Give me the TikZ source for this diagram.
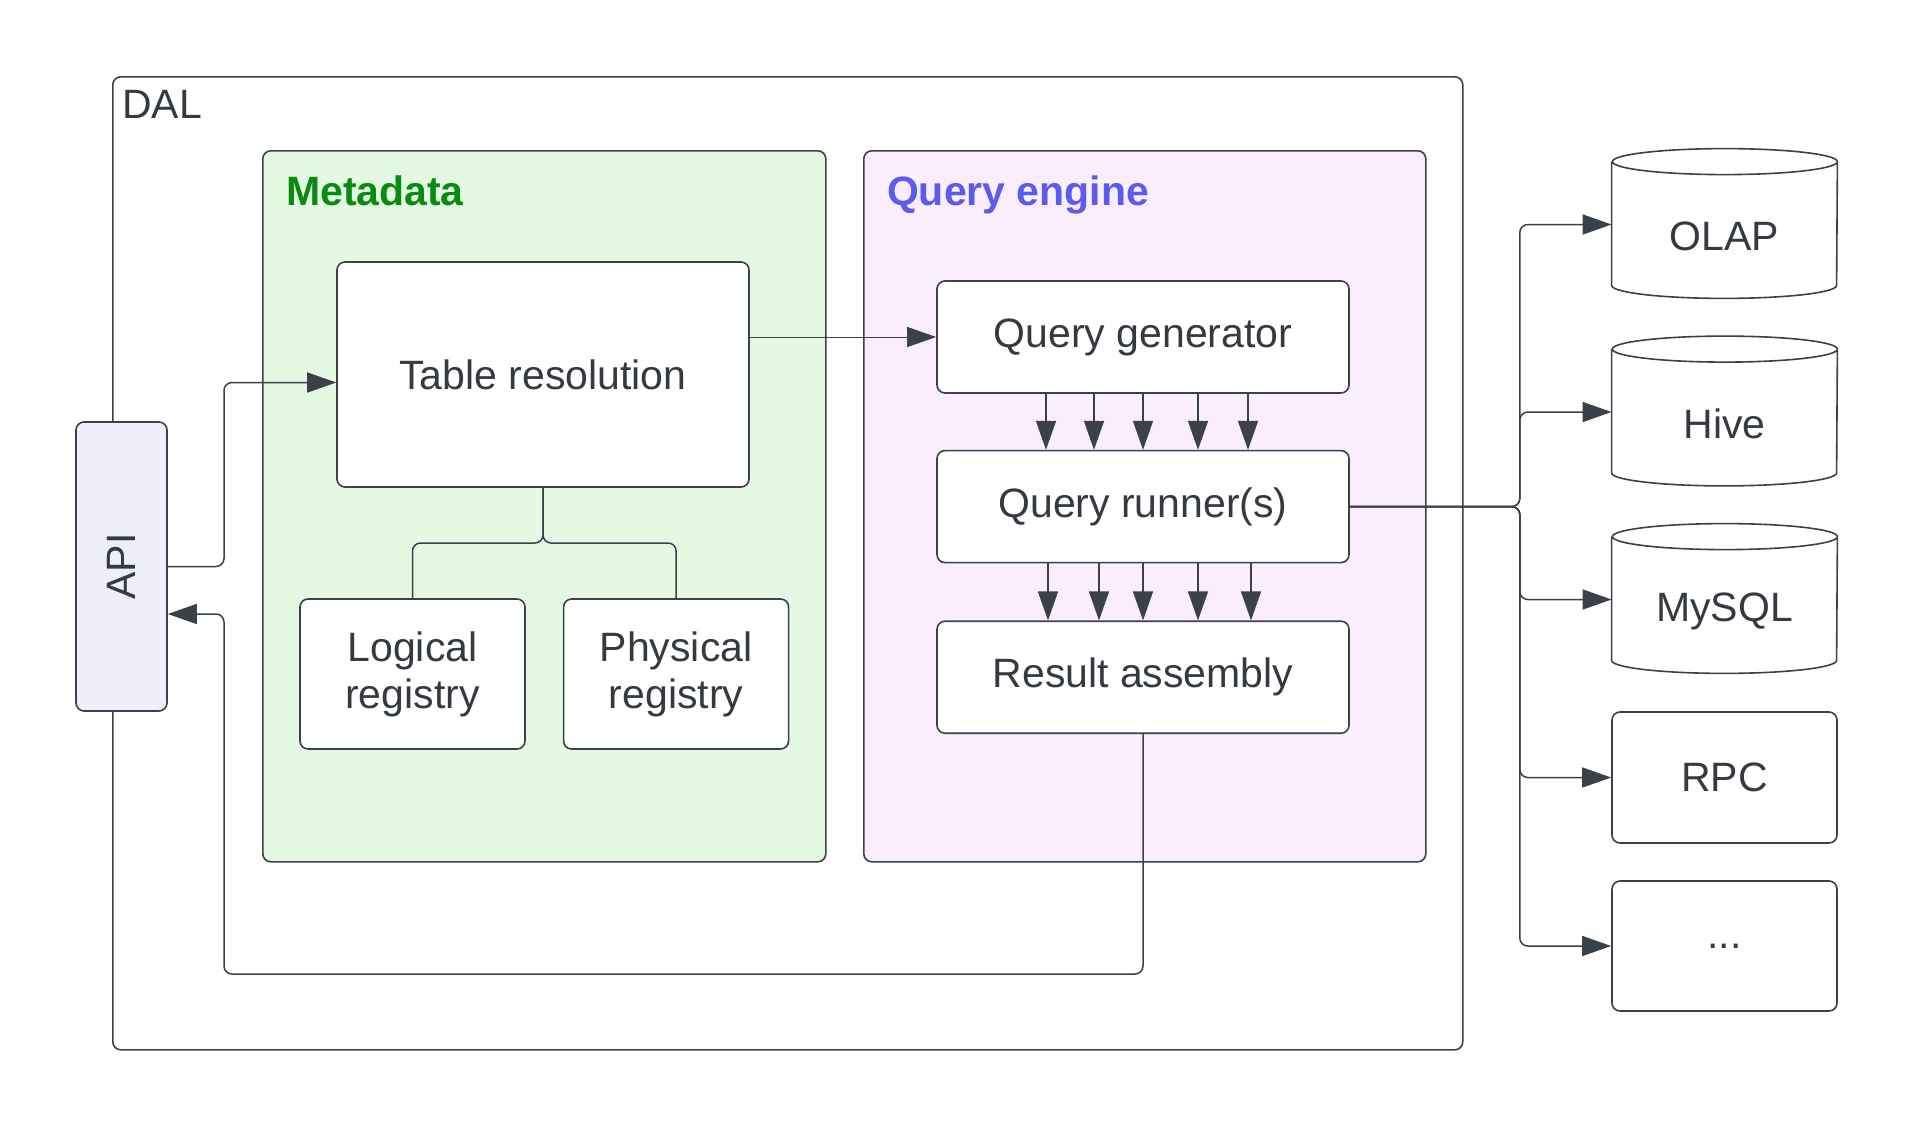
\documentclass[tikz,border=0pt]{standalone}
\usepackage{fontspec}
\setmainfont{Liberation Sans}
\usepackage{xcolor}
\usepackage{graphicx}
\usepackage{tikz}
\usetikzlibrary{arrows.meta, positioning, calc}

\definecolor{linec}{HTML}{3A4149}
\definecolor{textc}{HTML}{343A40}
\definecolor{metafill}{HTML}{E3F9E1}
\definecolor{metatext}{HTML}{0A8A12}
\definecolor{qefill}{HTML}{FBEEFC}
\definecolor{qetext}{HTML}{5B5BEE}
\definecolor{apifill}{HTML}{EFEFFC}

\newcommand{\drum}[1]{%
  \draw[draw=linec, line width=0.8pt] ($(#1.north west)+(0,6.5pt)$) -- ($(#1.south west)+(0,6.5pt)$)
    arc[start angle=180, end angle=360, x radius=56.25pt, y radius=6.5pt]
    -- ($(#1.north east)+(0,6.5pt)$)
    arc[start angle=0, end angle=360, x radius=56.25pt, y radius=6.5pt];}

\begin{document}
\begin{tikzpicture}[
    x=0.5pt, y=-0.5pt,
    font=\fontsize{20.5}{23.5}\selectfont,
    text=textc,
    node distance=28pt,
    group/.style={draw=linec, line width=0.8pt, rounded corners=4pt, anchor=north west, inner sep=0pt},
    title/.style={anchor=base west, font=\fontsize{20.5}{23.5}\selectfont\bfseries},
    box/.style={draw=linec, line width=0.8pt, rounded corners=4pt, fill=white, align=center, inner sep=0pt},
    store/.style={align=center, inner sep=0pt, minimum width=112.5pt, minimum height=61.5pt},
    link/.style={draw=linec, line width=0.75pt, rounded corners=4pt},
    flow/.style={link, -{Triangle[length=14.5pt, width=10pt]}}
]
\useasboundingbox (0,0) rectangle (1913,1125);

\node [group, minimum width=675pt, minimum height=486.5pt] (dal) at (112,76) {};
\node [anchor=base west] (dallabel) at (115,118) {DAL};

\node [group, fill=metafill, minimum width=281.5pt, minimum height=355.5pt] (meta) at (262,150) {};
\node [title, text=metatext] (metalabel) at (279,205) {Metadata};
\node [group, fill=qefill, minimum width=281pt, minimum height=355.5pt] (qeng) at (863,150) {};
\node [title, text=qetext] (qenglabel) at (880,205) {Query engine};

\node [box, fill=apifill, minimum width=45.5pt, minimum height=144.5pt] (api) at (121.5,566.5) {\rotatebox{90}{API}};

\node [box, minimum width=206pt, minimum height=112.5pt] (tres) at (543,374.5) {Table resolution};
\node [box, minimum width=112.5pt, minimum height=75pt] (logreg) at (412.5,674) {Logical\\registry};
\node [box, minimum width=112.5pt, minimum height=75pt, right=18.5pt of logreg] (phyreg) {Physical\\registry};

\node [box, minimum width=206pt, minimum height=56pt] (qgen) at (1143,337) {Query generator};
\node [box, minimum width=206pt, minimum height=56pt, below=of qgen] (qrun) {Query runner(s)};
\node [box, minimum width=206pt, minimum height=56pt, below=28.5pt of qrun] (rasm) {Result assembly};

\node [store] (olap) at (1724.5,236.5) {OLAP};
\node [store] (hive) at (1724.5,424) {Hive};
\node [store] (mysql) at (1724.5,611.5) {MySQL};
\node [box, minimum width=112.5pt, minimum height=65.5pt] (rpc) at (1724.5,777.5) {RPC};
\node [box, minimum width=112.5pt, minimum height=65pt] (dots) at (1724.5,946) {...};
\drum{olap}
\drum{hive}
\drum{mysql}

\coordinate (lane) at (224,974);
\coordinate (fork) at ($(tres.south)!0.5!(tres.south |- logreg.north)$);
\coordinate (hub) at ($(qrun.east)+(85pt,0)$);

\draw [flow] (api.east) -- (api.east -| lane) |- ([yshift=-4pt]tres.west);
\draw [flow, line width=0.5pt] (tres.east |- qgen.west) -- (qgen.west);
\draw [link] (tres.south) -- (fork) -| (logreg.north);
\draw [link] (tres.south) -- (fork) -| (phyreg.north);

\foreach \dx in {-48.5, -24.5, 0, 27.5, 52.5}
    \draw [flow] ($(qgen.south)+(\dx pt,0)$) -- ($(qrun.north)+(\dx pt,0)$);
\foreach \dx in {-47.5, -22, 0, 27.5, 54}
    \draw [flow] ($(qrun.south)+(\dx pt,0)$) -- ($(rasm.north)+(\dx pt,0)$);

\draw [flow] (rasm.south) |- (lane) |- ([yshift=-23.75pt]api.east);

\foreach \s in {olap, hive, mysql}
    \draw [flow] (qrun.east) -- (hub) |- ([yshift=6pt]\s.west);
\foreach \s in {rpc, dots}
    \draw [flow] (qrun.east) -- (hub) |- (\s.west);
\end{tikzpicture}
\end{document}
